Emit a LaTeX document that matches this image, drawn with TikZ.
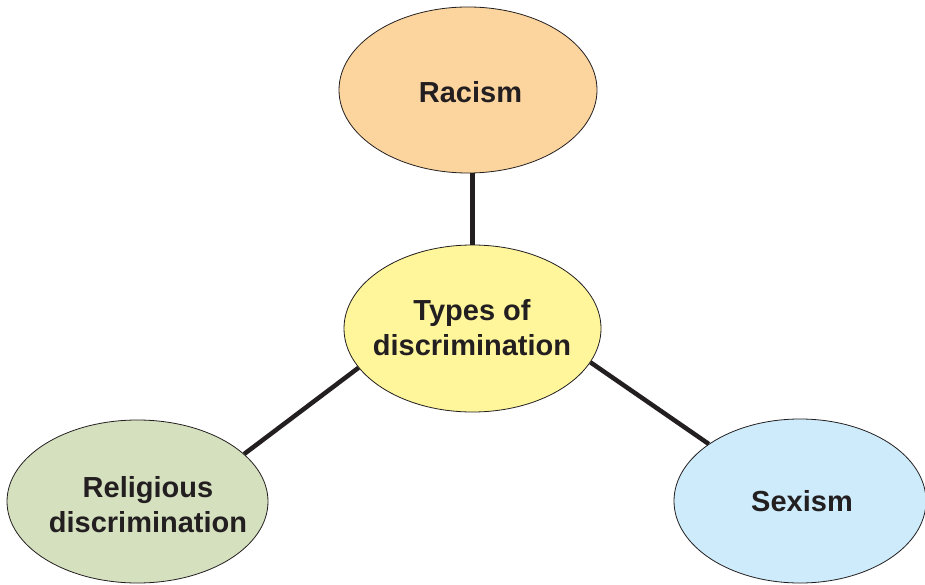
\documentclass[tikz,border=0pt]{standalone}
\usepackage{fontspec}
\setmainfont{Liberation Sans}
\usetikzlibrary{shapes.geometric}
\definecolor{ink}{HTML}{231F20}
\definecolor{peach}{HTML}{FCD59E}
\definecolor{paleyellow}{HTML}{FFF69C}
\definecolor{sage}{HTML}{D5E0BF}
\definecolor{skyblue}{HTML}{CDEBFA}
\tikzset{
  bubble/.style={ellipse, draw=ink, line width=0.8pt, inner sep=0pt},
  lbl/.style={text=ink, font=\fontsize{29}{35}\selectfont\bfseries, align=center, inner sep=0pt},
  link/.style={draw=ink, line width=4.5pt}
}
\begin{document}
\begin{tikzpicture}[x=1pt,y=-1pt]
\useasboundingbox[fill=white] (0,0) rectangle (925,585);
\node[bubble, fill=peach, minimum width=258pt, minimum height=166pt] (rac) at (468,90) {};
\node[bubble, fill=paleyellow, minimum width=257pt, minimum height=167pt] (ctr) at (472.5,328.5) {};
\node[bubble, fill=sage, minimum width=261pt, minimum height=163pt] (rel) at (137.5,501.5) {};
\node[bubble, fill=skyblue, minimum width=252pt, minimum height=164pt] (sex) at (800,501) {};
\draw[link] (ctr.north) -- (ctr.north |- rac.south);
\draw[link] (ctr.199.3) -- (rel.24.5);
\draw[link] (ctr.-16.2) -- (sex.148.1);
\node[lbl, anchor=base] (racT) at (470.5,103) {Racism};
\node[lbl, anchor=base] (ctrT) at (472,355) {Types of\\discrimination};
\node[lbl, anchor=base] (relT) at (148,532) {Religious\\discrimination};
\node[lbl, anchor=base] (sexT) at (802,511) {Sexism};
\end{tikzpicture}
\end{document}
